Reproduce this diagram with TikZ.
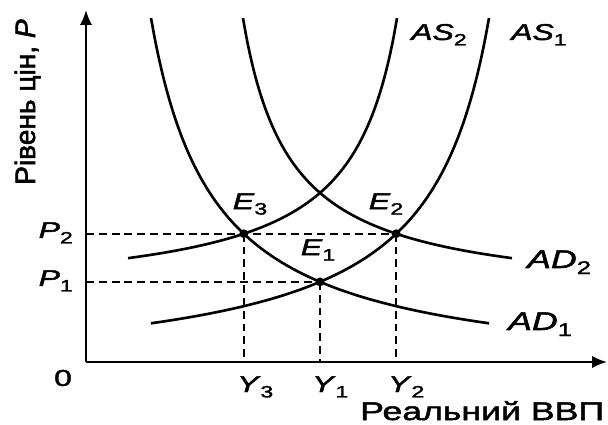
\documentclass[tikz,border=0pt]{standalone}
\usepackage{fontspec}
\setmainfont[FakeStretch=1.4, FakeBold=2]{Liberation Sans}
\newfontfamily\plainsans[FakeBold=2]{Liberation Sans}
\usetikzlibrary{arrows.meta, intersections}
\newcommand{\lab}[2]{\textit{#1}\raisebox{-0.45ex}{\scalebox{0.72}{#2}}}

\begin{document}
\begin{tikzpicture}[x=0.02cm, y=-0.02cm,
    axis/.style={line width=1.1pt, -{Latex[length=8.5pt, width=7pt]}},
    curve/.style={line width=1.5pt, smooth, samples=80},
    guide/.style={line width=0.9pt, dash pattern=on 4.5pt off 2.8pt},
    eqdot/.style={circle, fill, inner sep=0pt, minimum size=5pt},
    small/.style={font=\fontsize{13}{15}\selectfont},
    big/.style={font=\fontsize{14.5}{17}\selectfont}]
    \useasboundingbox (0,0) rectangle (608,425);

    \coordinate (O) at (86,362);
    \coordinate (xend) at (607,362);
    \coordinate (yend) at (86,10);

    % demand curves
    \draw[curve, name path=ad1] plot[domain=151:489] (\x, {380.19 - 228.15/((\x-88)/100)});
    \draw[curve, name path=ad2] plot[domain=243:512] (\x, {300.44 - 133.8/((\x-195.6)/100)});

    % supply curves
    \draw[curve, name path=as1] plot[domain=151:489] (\x, {380.19 - 228.15/((552-\x)/100)});
    \draw[curve, name path=as2] plot[domain=128:397] (\x, {300.44 - 133.8/((444.4-\x)/100)});

    \path[name intersections={of=ad1 and as1, by=E1}];
    \path[name intersections={of=ad2 and as1, by=E2}];
    \path[name intersections={of=ad1 and as2, by=E3}];

    % dashed guides to the axes
    \draw[guide] (O |- E2) -- (E2);
    \draw[guide] (O |- E1) -- (E1);
    \foreach \e in {E1,E2,E3}
        \draw[guide] (\e) -- (\e |- O);

    \draw[axis] (O) -- (xend);
    \draw[axis] (O) -- (yend);

    \node[eqdot] (d1) at (E1) {};
    \node[eqdot] (d2) at (E2) {};
    \node[eqdot] (d3) at (E3) {};

    \node[small] (e1) at (318,250) {\lab{E}{1}};
    \node[small] (e2) at (386,204) {\lab{E}{2}};
    \node[small] (e3) at (250,204) {\lab{E}{3}};

    \node[small, anchor=base west] (as2) at (405,40) {\lab{AS}{2}};
    \node[small, anchor=base west] (as1) at (505,40) {\lab{AS}{1}};
    \node[big, anchor=base west] (ad2) at (521,268) {\lab{AD}{2}};
    \node[big, anchor=base west] (ad1) at (502,330) {\lab{AD}{1}};

    \node[small, anchor=base east] (p2) at (79,238) {\lab{P}{2}};
    \node[small, anchor=base east] (p1) at (79,286) {\lab{P}{1}};
    \node[small] (zero) at (63,378) {0};

    \node[small, anchor=base west] (y3) at (231,392) {\lab{Y}{3}};
    \node[small, anchor=base west] (y1) at (306,392) {\lab{Y}{1}};
    \node[small, anchor=base west] (y2) at (382,392) {\lab{Y}{2}};

    \node[big, anchor=base west] (xlab) at (354,420) {Реальний ВВП};
    \node[rotate=90, anchor=base west, font=\plainsans\fontsize{16}{18}\selectfont] (ylab) at (35,191) {Рівень цін, \textit{P}};
\end{tikzpicture}
\end{document}
